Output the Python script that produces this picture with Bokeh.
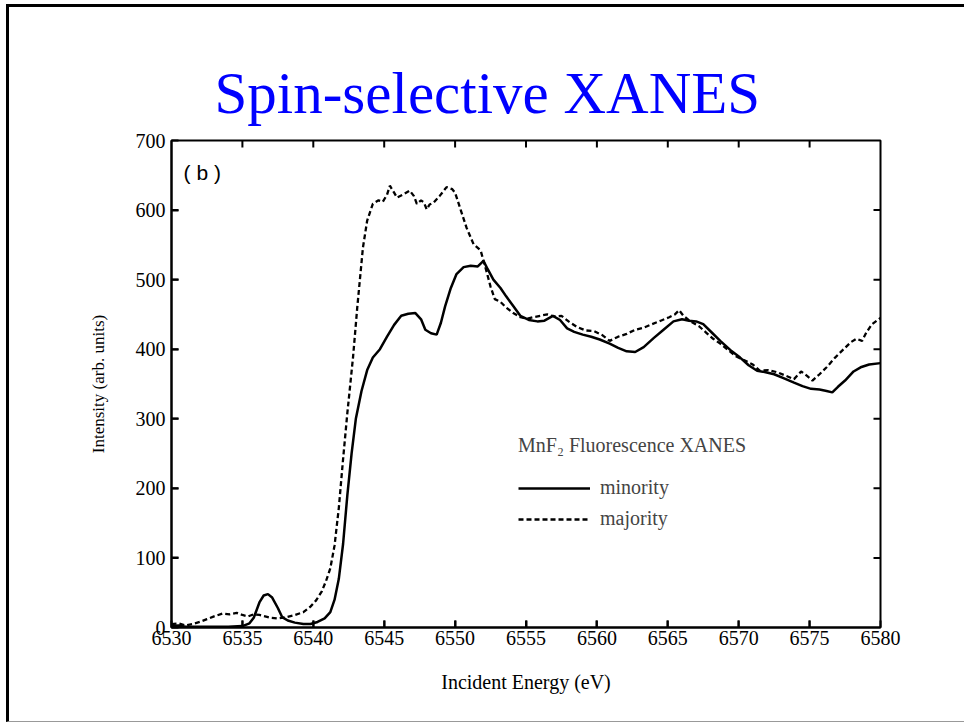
from bokeh.plotting import figure
from bokeh.models import (FixedTicker, Legend, LegendItem, Label, Range1d, Title,
                          InlineStyleSheet)
from bokeh.embed import file_html
from bokeh.resources import INLINE

# ---------------- data ----------------
title_text = "Spin-selective XANES"
x_label = "Incident Energy (eV)"
y_label = "Intensity (arb. units)"
panel_tag = "( b )"
legend_title = "MnF\u2082 Fluorescence XANES"
series_names = ["minority", "majority"]
x_ticks = [6530, 6535, 6540, 6545, 6550, 6555, 6560, 6565, 6570, 6575, 6580]
y_ticks = [0, 100, 200, 300, 400, 500, 600, 700]

minority_energy = [
    6530.0, 6530.5, 6531.0, 6532.0, 6533.0, 6534.0, 6535.0, 6535.5, 6535.8, 6536.2,
    6536.5, 6536.8, 6537.1, 6537.5, 6537.8, 6538.2, 6538.7, 6539.3, 6539.8, 6540.3,
    6540.8, 6541.2, 6541.5, 6541.8, 6542.1, 6542.4, 6542.7, 6543.0, 6543.4, 6543.8,
    6544.2, 6544.7, 6545.2, 6545.7, 6546.2, 6546.7, 6547.2, 6547.6, 6547.9, 6548.3,
    6548.7, 6549.0, 6549.3, 6549.7, 6550.1, 6550.6, 6551.1, 6551.6, 6552.0, 6552.3,
    6552.7, 6553.2, 6553.6, 6554.1, 6554.6, 6555.2, 6555.8, 6556.3, 6556.9, 6557.4,
    6557.9, 6558.4, 6559.0, 6559.6, 6560.2, 6560.9, 6561.5, 6562.1, 6562.7, 6563.3,
    6564.0, 6564.7, 6565.4, 6566.0, 6566.5, 6567.0, 6567.5, 6568.1, 6568.7, 6569.4,
    6570.1, 6570.7, 6571.3, 6571.9, 6572.5, 6573.2, 6573.9, 6574.5, 6575.1, 6575.7,
    6576.2, 6576.6, 6577.0, 6577.5, 6578.1, 6578.6, 6579.2, 6580.0]
minority_intensity = [
    2, 3, 1, 1, 1, 1, 2, 6, 14, 36,
    46, 48, 43, 28, 15, 10, 7, 5, 5, 8,
    13, 22, 40, 70, 120, 190, 250, 300, 340, 370,
    388, 400, 418, 435, 448, 451, 452, 443, 428, 423,
    421, 438, 462, 488, 508, 518, 520, 519, 527, 515,
    500, 488, 476, 462, 448, 442, 440, 441, 448, 442,
    430, 425, 421, 418, 414, 408, 402, 397, 396, 403,
    416, 428, 440, 443, 441, 440, 436, 424, 412, 399,
    388, 377, 369, 367, 364, 358, 352, 347, 343, 342,
    340, 338, 346, 355, 368, 374, 378, 380]

majority_energy = [
    6530.0, 6530.5, 6531.0, 6531.5, 6532.0, 6532.5, 6533.0, 6533.6, 6534.1, 6534.6,
    6535.0, 6535.4, 6535.8, 6536.2, 6536.6, 6537.0, 6537.5, 6538.1, 6538.7, 6539.3,
    6539.8, 6540.2, 6540.6, 6540.9, 6541.2, 6541.5, 6541.8, 6542.1, 6542.4, 6542.8,
    6543.1, 6543.5, 6543.8, 6544.2, 6544.6, 6544.9, 6545.2, 6545.4, 6545.7, 6545.9,
    6546.3, 6546.8, 6547.1, 6547.3, 6547.6, 6547.8, 6548.0, 6548.2, 6548.5, 6548.9,
    6549.4, 6549.8, 6550.0, 6550.4, 6550.8, 6551.3, 6551.8, 6552.2, 6552.5, 6552.8,
    6553.2, 6553.6, 6554.1, 6554.6, 6555.1, 6555.5, 6556.0, 6556.5, 6557.0, 6557.5,
    6558.0, 6558.6, 6559.2, 6559.8, 6560.4, 6560.9, 6561.5, 6562.1, 6562.7, 6563.3,
    6563.9, 6564.5, 6565.1, 6565.5, 6565.8, 6566.1, 6566.6, 6567.2, 6567.7, 6568.2,
    6568.7, 6569.3, 6569.8, 6570.4, 6571.0, 6571.5, 6572.1, 6572.7, 6573.3, 6573.9,
    6574.4, 6574.8, 6575.2, 6575.7, 6576.2, 6576.8, 6577.4, 6577.9, 6578.3, 6578.7,
    6579.0, 6579.4, 6580.0]
majority_intensity = [
    5, 6, 3, 5, 8, 12, 16, 20, 19, 21,
    18, 16, 19, 18, 16, 14, 13, 15, 18, 22,
    30, 39, 52, 67, 85, 118, 172, 242, 308, 388,
    460, 546, 585, 609, 614, 612, 622, 635, 625, 618,
    622, 628, 620, 609, 614, 611, 601, 608, 611, 620,
    633, 630, 625, 600, 575, 551, 542, 513, 490, 472,
    468, 460, 452, 446, 444, 446, 448, 450, 447, 448,
    440, 432, 427, 426, 420, 412, 418, 422, 428, 431,
    436, 441, 446, 450, 456, 448, 440, 433, 424, 415,
    408, 398, 390, 384, 378, 369, 370, 367, 362, 357,
    368, 362, 355, 364, 374, 388, 400, 410, 415, 412,
    424, 436, 445]

# ---------------- layout constants ----------------
W, H = 964, 723
FL, FR, FT, FB = 171, 880, 140, 627
SERIF = "Liberation Serif"

x0, x1 = x_ticks[0], x_ticks[-1]
y0, y1 = y_ticks[0], y_ticks[-1]

p = figure(width=W, height=H, x_range=Range1d(x0, x1), y_range=Range1d(y0, y1),
           output_backend="svg", toolbar_location=None,
           min_border_left=FL, min_border_right=W - FR,
           min_border_top=FT, min_border_bottom=H - FB,
           background_fill_color="white", border_fill_color="white")
p.xgrid.visible = False
p.ygrid.visible = False
p.outline_line_color = "black"
p.outline_line_width = 2


def style_axis(ax, ticks):
    ax.ticker = FixedTicker(ticks=ticks)
    ax.axis_line_color = "black"
    ax.axis_line_width = 2
    ax.major_tick_in = 7
    ax.major_tick_out = 0
    ax.major_tick_line_width = 2
    ax.major_tick_line_color = "black"
    ax.minor_tick_line_color = None
    ax.major_label_text_font = SERIF
    ax.major_label_text_font_size = "20px"
    ax.major_label_text_color = "black"
    ax.axis_label_text_font = SERIF
    ax.axis_label_text_font_style = "normal"
    ax.axis_label_text_color = "black"


xa = p.xaxis[0]
style_axis(xa, x_ticks)
xa.major_label_standoff = 3
xa.axis_label = x_label
xa.axis_label_text_font_size = "20px"
xa.axis_label_standoff = 23

ya = p.yaxis[0]
style_axis(ya, y_ticks)
ya.major_label_standoff = 6
ya.axis_label = y_label
ya.axis_label_text_font_size = "17px"
ya.axis_label_standoff = 25

# inward tick marks on all four sides (from the tick arrays)
TICK_PX = 7
dy = TICK_PX * (y1 - y0) / (FB - FT)
dx = TICK_PX * (x1 - x0) / (FR - FL)
xt = x_ticks[1:-1]
yt = y_ticks[1:-1]
tick_style = dict(line_color="black", line_width=2)
p.segment(x0=xt, y0=[y0] * len(xt), x1=xt, y1=[y0 + dy] * len(xt), **tick_style)
p.segment(x0=xt, y0=[y1] * len(xt), x1=xt, y1=[y1 - dy] * len(xt), **tick_style)
p.segment(x0=[x0] * len(yt), y0=yt, x1=[x0 + dx] * len(yt), y1=yt, **tick_style)
p.segment(x0=[x1] * len(yt), y0=yt, x1=[x1 - dx] * len(yt), y1=yt, **tick_style)

# title
p.title = Title(text=title_text, align="left", text_font=SERIF,
                text_font_size="59px", text_color="#0000FF",
                text_font_style="normal", offset=43, standoff=30)

# curves
r_maj = p.line(majority_energy, majority_intensity, line_color="black",
               line_width=2.3, line_dash="5 3")
r_min = p.line(minority_energy, minority_intensity, line_color="black",
               line_width=2.5)

legend = Legend(items=[LegendItem(label=series_names[0], renderers=[r_min]),
                       LegendItem(label=series_names[1], renderers=[r_maj])],
                location=(347, 97), title=legend_title,
                title_text_font=SERIF, title_text_font_size="20px",
                title_text_font_style="normal", title_standoff=19,
                label_text_font=SERIF, label_text_font_size="20px",
                glyph_width=72, glyph_height=20, label_height=20,
                label_standoff=10, spacing=8, padding=0, margin=0,
                border_line_color=None, background_fill_alpha=0)
p.add_layout(legend)

p.add_layout(Label(x=6530.85, y=654, text=panel_tag, text_font="Liberation Sans",
                   text_font_size="21px", text_color="black",
                   text_baseline="alphabetic"))

# slide frame (left + top black rules, faint bottom rule)
p.stylesheets = [InlineStyleSheet(css="""
:host { position: relative; }
:host::after {
  content: ''; position: absolute; left: 6px; top: 4px; width: 980px; height: 714px;
  border-left: 3px solid black; border-top: 3px solid black;
  border-bottom: 1px solid #999999; pointer-events: none; z-index: 100;
}
""")]

open("out.html", "w").write(file_html(p, INLINE))
